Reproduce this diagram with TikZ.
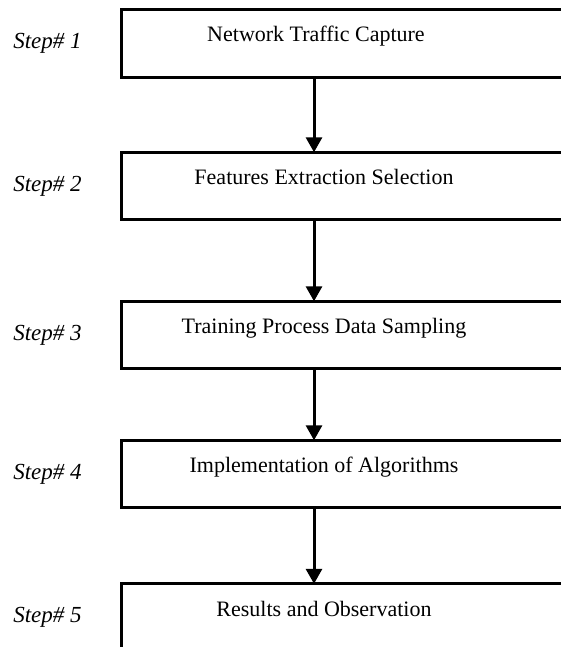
\documentclass[tikz,border=0pt]{standalone}
\usepackage{fontspec}
\setmainfont{Liberation Serif}
\usetikzlibrary{arrows.meta,positioning}

\tikzset{
  stepbox/.style={minimum width=#1, inner sep=0pt, text height=32pt, text depth=35pt,
    font=\fontsize{22}{26}\selectfont},
  stepbox/.default=404pt,
  steplabel/.style={inner sep=0pt, font=\fontsize{23}{27}\selectfont\itshape},
  frame/.style={draw, line width=3pt},
  flow/.style={draw, line width=3pt, -{Triangle[width=16pt,length=15pt]}},
}

\begin{document}
\begin{tikzpicture}[x=1pt,y=-1pt]
\clip (0,0) rectangle (561,647);
\coordinate (axis) at (314,0);
% the five stages
\node[stepbox=388pt] (1) at (316,43.5) {Network Traffic Capture};
\node[stepbox] (2) at (324,186) {Features Extraction Selection};
\node[stepbox] (3) at (324,335) {Training Process Data Sampling};
\node[stepbox] (4) at (324,474) {Implementation of Algorithms};
\node[stepbox] (5) at (324,617.5) {Results and Observation};
% step numbers on the left
\node[steplabel, left=40pt of 1] (s1) {Step\# 1};
\node[steplabel, left=40pt of 2] (s2) {Step\# 2};
\node[steplabel, left=40pt of 3] (s3) {Step\# 3};
\node[steplabel, left=40pt of 4] (s4) {Step\# 4};
\node[steplabel, left=40pt of 5] (s5) {Step\# 5};
% boxes run on past the right edge
\foreach \n in {1,...,5}
  \path[frame] (\n.north west) rectangle ([xshift=100pt]\n.south east);
\path[flow] (1.south -| axis) -- (2.north -| axis);
\path[flow] (2.south -| axis) -- (3.north -| axis);
\path[flow] (3.south -| axis) -- (4.north -| axis);
\path[flow] (4.south -| axis) -- (5.north -| axis);
\end{tikzpicture}
\end{document}
